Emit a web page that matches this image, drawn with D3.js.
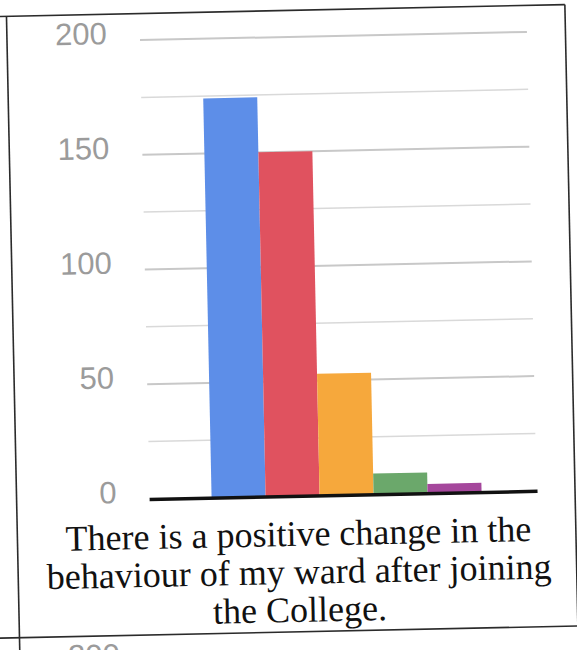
<!DOCTYPE html>
<html>
<head>
<meta charset="utf-8">
<script src="https://cdn.jsdelivr.net/npm/d3@7"></script>
<style>
  body { margin: 0; background: #fff; }
  svg { display: block; }
</style>
</head>
<body>
<script>
  // chart data
  const question = 'There is a positive change in the behaviour of my ward after joining the College.';
  const titleLines = ['There is a positive change in the', 'behaviour of my ward after joining', 'the College.'];
  const series = ['Strongly Agree', 'Agree', 'Neutral', 'Disagree', 'Strongly Disagree'];
  const values = [174, 150, 53, 9, 4];
  const majorTicks = [0, 50, 100, 150, 200];
  const minorTicks = [25, 75, 125, 175];

  const palette = ['#5d8ee8', '#e0525f', '#f6a83c', '#6ba86b', '#a5479c'];

  const width = 577;
  const height = 650;
  const plot = { left: 146, right: 533, top: 37, bottom: 496 };

  const svg = d3.select('body').append('svg')
    .attr('width', width)
    .attr('height', height);

  // the scan is slightly tilted
  const g = svg.append('g')
    .attr('transform', 'rotate(-1.2, 288, 325)');

  const y = d3.scaleLinear()
    .domain([0, 200])
    .range([plot.bottom, plot.top]);

  const x0 = d3.scaleBand()
    .domain([question])
    .range([plot.left, plot.right])
    .padding(0.178)
    .align(0.53);

  const x1 = d3.scaleBand()
    .domain(series)
    .range([0, x0.bandwidth()])
    .padding(0);

  const color = d3.scaleOrdinal().domain(series).range(palette);

  // table frame
  const frame = g.append('g')
    .attr('stroke', '#2b2b2b')
    .attr('stroke-width', 1.6);
  frame.append('line').attr('x1', -20).attr('x2', 571.5).attr('y1', 10.5).attr('y2', 10.5);
  frame.append('line').attr('x1', 13).attr('x2', 13).attr('y1', 10.5).attr('y2', 700);
  frame.append('line').attr('x1', 571.5).attr('x2', 571.5).attr('y1', 10.5).attr('y2', 700);
  frame.append('line').attr('x1', -20).attr('x2', 620).attr('y1', 632).attr('y2', 632);

  // gridlines
  g.append('g')
    .selectAll('line')
    .data(minorTicks)
    .enter()
      .append('line')
      .attr('x1', plot.left).attr('x2', plot.right)
      .attr('y1', d => y(d)).attr('y2', d => y(d))
      .attr('stroke', '#d9d9d9')
      .attr('stroke-width', 1.5);

  g.append('g')
    .selectAll('line')
    .data(majorTicks.filter(d => d > 0))
    .enter()
      .append('line')
      .attr('x1', plot.left).attr('x2', plot.right)
      .attr('y1', d => y(d)).attr('y2', d => y(d))
      .attr('stroke', '#c8c8c8')
      .attr('stroke-width', 2);

  // y axis labels
  const yAxis = g.append('g')
    .attr('transform', 'translate(113,0)')
    .call(d3.axisLeft(y).tickValues(majorTicks).tickSize(0).tickPadding(0));
  yAxis.select('.domain').remove();
  yAxis.selectAll('text')
    .attr('y', -7)
    .attr('fill', '#9b9b9b')
    .style('font-family', '"Liberation Sans", Arial, sans-serif')
    .style('font-size', '31px');

  // bars
  g.append('g')
    .selectAll('rect')
    .data(series.map((s, i) => ({ key: s, value: values[i] })))
    .enter()
      .append('rect')
      .attr('x', d => x0(question) + x1(d.key))
      .attr('y', d => y(d.value))
      .attr('width', x1.bandwidth())
      .attr('height', d => y(0) - y(d.value))
      .attr('fill', d => color(d.key));

  // baseline
  g.append('line')
    .attr('x1', plot.left).attr('x2', plot.right + 1)
    .attr('y1', y(0) + 0.5).attr('y2', y(0) + 0.5)
    .attr('stroke', '#111')
    .attr('stroke-width', 3.5);

  // title below the chart
  g.append('g')
    .selectAll('text')
    .data(titleLines)
    .enter()
      .append('text')
      .attr('x', 294)
      .attr('y', (d, i) => 546 + i * 38)
      .attr('text-anchor', 'middle')
      .attr('fill', '#111')
      .style('font-family', '"Liberation Serif", "Times New Roman", serif')
      .style('font-size', '36px')
      .text(d => d);

  // next table row peeks in at the bottom
  g.append('text')
    .attr('x', 113)
    .attr('y', 652)
    .attr('dy', '0.32em')
    .attr('text-anchor', 'end')
    .attr('fill', '#9b9b9b')
    .style('font-family', '"Liberation Sans", Arial, sans-serif')
    .style('font-size', '31px')
    .text(majorTicks[majorTicks.length - 1]);
</script>
</body>
</html>
